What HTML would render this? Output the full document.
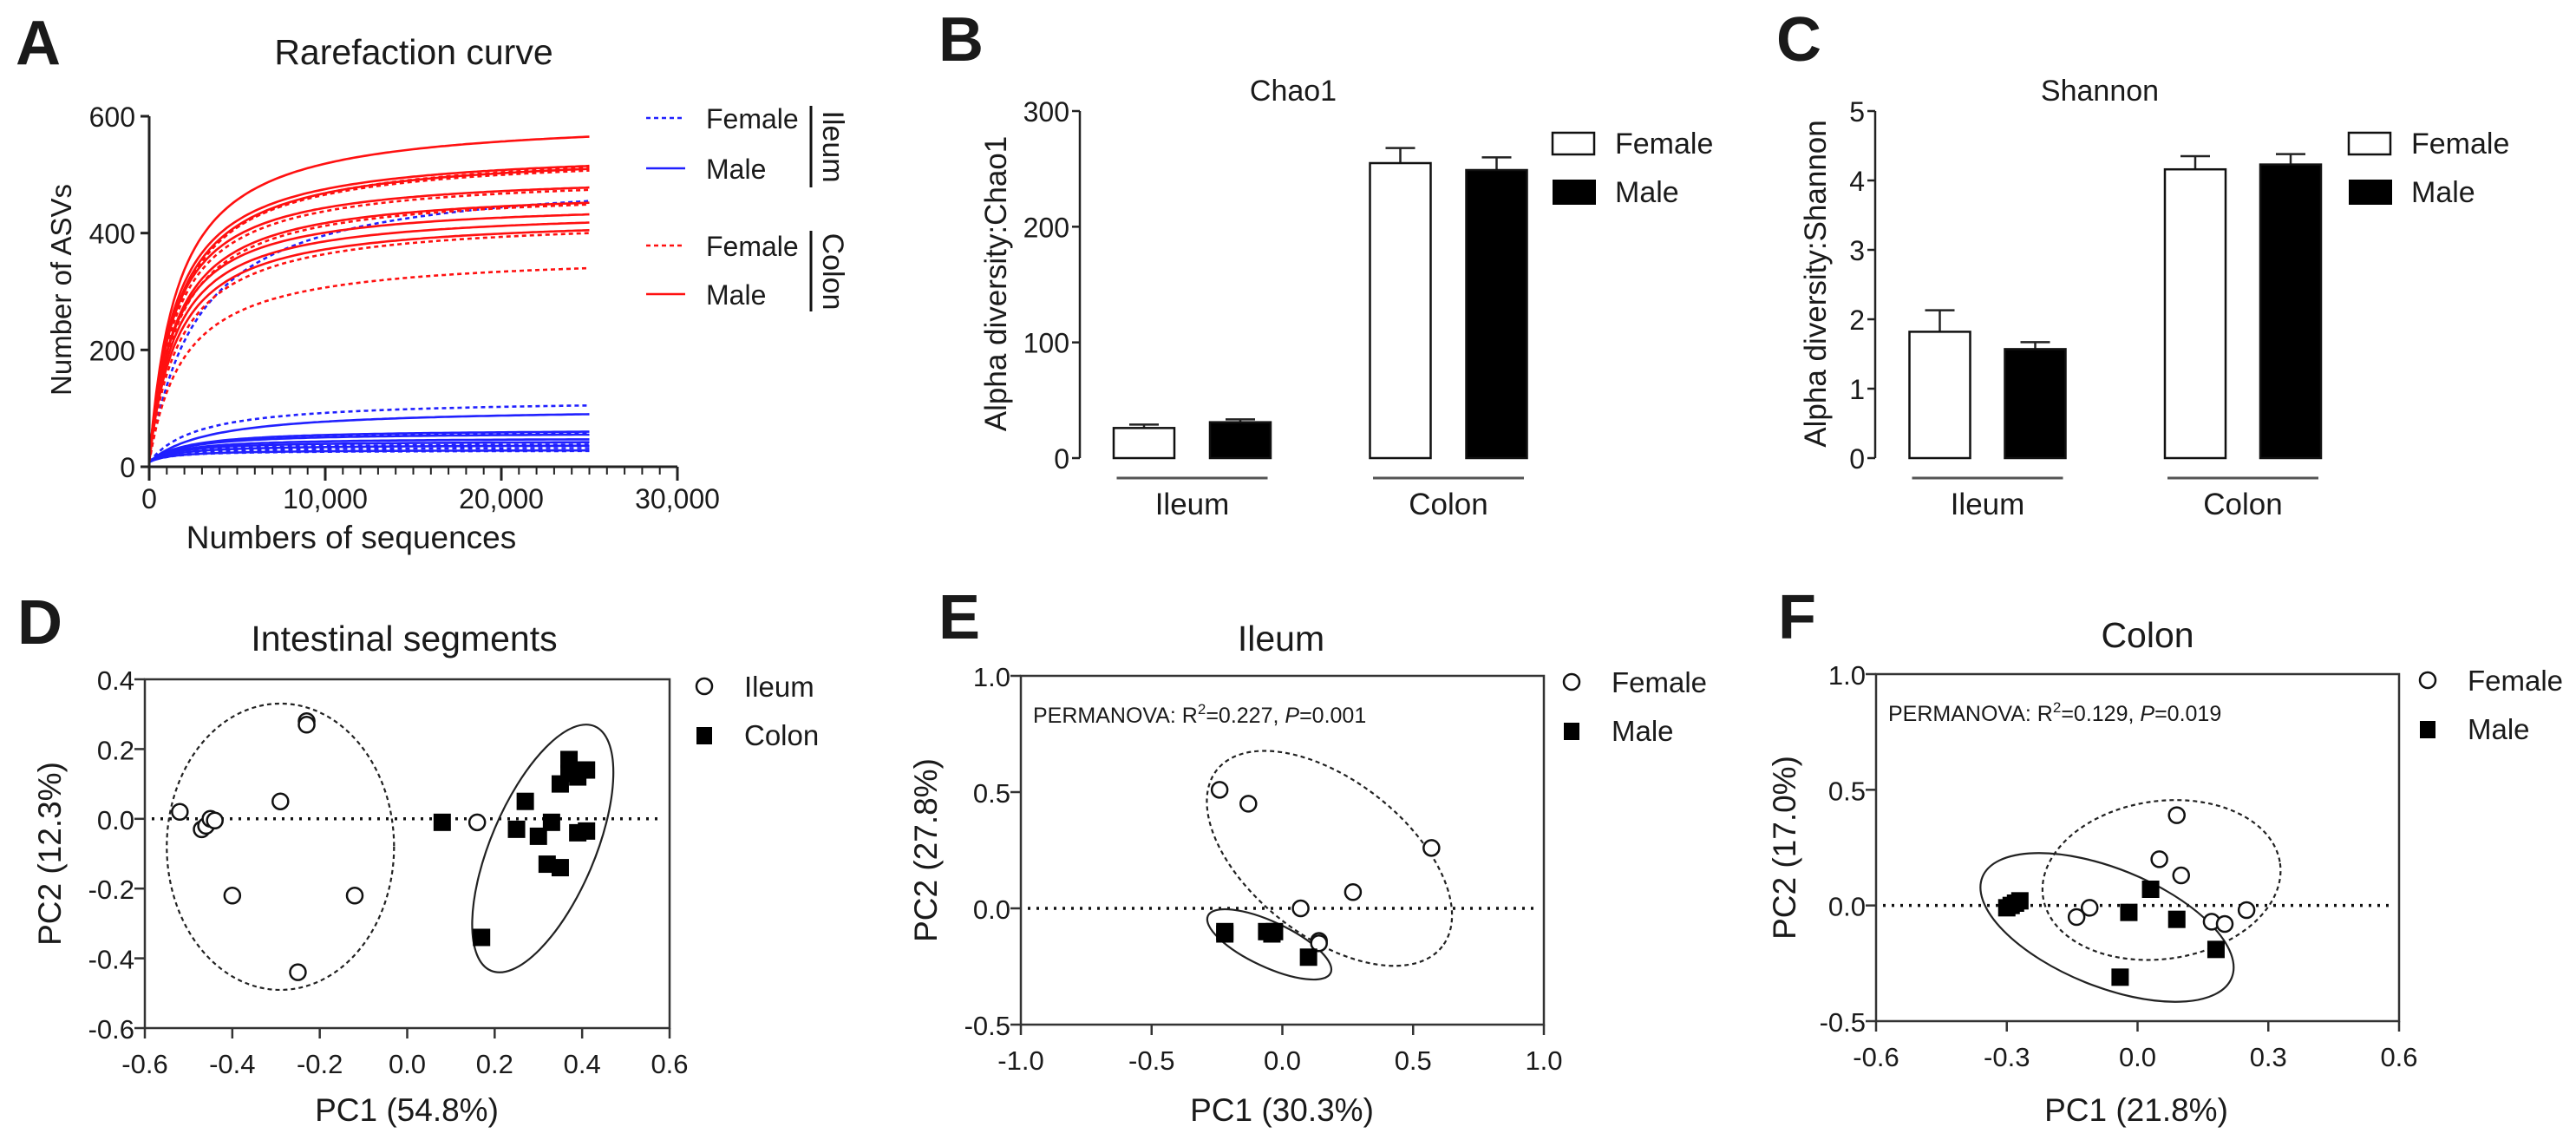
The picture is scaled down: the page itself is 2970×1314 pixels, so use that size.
<!DOCTYPE html>
<html><head><meta charset="utf-8"><style>
html,body{margin:0;padding:0;background:#fff;}
svg{display:block;font-family:"Liberation Sans",Arial,sans-serif;}
</style></head><body>
<svg id="fig" width="2970" height="1314" viewBox="0 0 2970 1314" xmlns="http://www.w3.org/2000/svg">
<rect width="2970" height="1314" fill="#fff"/>
<g id="root"></g>
</svg>
<script>
// ===== Panel A data =====
const colonSolidFinal = [565, 515, 510, 478, 452, 432, 418, 405];
const colonSolidK = [1600, 1500, 1600, 1400, 1500, 1400, 1500, 1600];
const colonDotFinal = [512, 507, 474, 449, 400, 340];
const colonDotK = [1700, 1600, 1500, 1600, 1800, 2000];
const ileumSolidFinal = [90, 60, 55, 47, 42, 36, 28];
const ileumSolidK = [3500, 2200, 2000, 1800, 1600, 1600, 1400];
const ileumDotFinal = [455, 105, 58, 38, 32, 27];
const ileumDotK = [2800, 2800, 2300, 1600, 1500, 1300];
const aXTicks = [0, 10000, 20000, 30000];
const aXTickLabels = ["0", "10,000", "20,000", "30,000"];
const aYTicks = [0, 200, 400, 600];
// ===== Panel B data =====
const bCategories = ["Ileum", "Colon"];
const bFemale = [26, 255];
const bFemaleErr = [3, 13];
const bMale = [31, 249];
const bMaleErr = [2.5, 11];
const bYTicks = [0, 100, 200, 300];
// ===== Panel C data =====
const cCategories = ["Ileum", "Colon"];
const cFemale = [1.82, 4.16];
const cFemaleErr = [0.31, 0.19];
const cMale = [1.57, 4.23];
const cMaleErr = [0.10, 0.15];
const cYTicks = [0, 1, 2, 3, 4, 5];
// ===== Panel D data =====
const dIleumX = [-0.52, -0.47, -0.46, -0.45, -0.44, -0.29, -0.23, -0.23, -0.40, -0.12, -0.25, 0.16];
const dIleumY = [0.02, -0.03, -0.02, 0.00, -0.005, 0.05, 0.28, 0.27, -0.22, -0.22, -0.44, -0.01];
const dColonX = [0.08, 0.17, 0.25, 0.27, 0.30, 0.33, 0.32, 0.35, 0.35, 0.37, 0.37, 0.39, 0.41, 0.40, 0.39, 0.41];
const dColonY = [-0.01, -0.34, -0.03, 0.05, -0.05, -0.01, -0.13, -0.14, 0.10, 0.17, 0.13, 0.12, 0.14, 0.14, -0.04, -0.035];
const dXTicks = [-0.6, -0.4, -0.2, 0.0, 0.2, 0.4, 0.6];
const dYTicks = [-0.6, -0.4, -0.2, 0.0, 0.2, 0.4];
// ===== Panel E data =====
const eFemaleX = [-0.24, -0.13, 0.57, 0.27, 0.07, 0.14, 0.14];
const eFemaleY = [0.51, 0.45, 0.26, 0.07, 0.00, -0.14, -0.15];
const eMaleX = [-0.22, -0.22, -0.06, -0.04, -0.03, 0.10];
const eMaleY = [-0.10, -0.11, -0.10, -0.11, -0.10, -0.21];
const eXTicks = [-1.0, -0.5, 0.0, 0.5, 1.0];
const eYTicks = [-0.5, 0.0, 0.5, 1.0];
// ===== Panel F data =====
const fFemaleX = [0.09, 0.05, 0.10, -0.11, -0.14, 0.17, 0.20, 0.25];
const fFemaleY = [0.39, 0.20, 0.13, -0.01, -0.05, -0.07, -0.08, -0.02];
const fMaleX = [-0.30, -0.29, -0.28, -0.27, 0.03, -0.02, 0.09, 0.18, -0.04];
const fMaleY = [-0.01, 0.00, 0.01, 0.02, 0.07, -0.03, -0.06, -0.19, -0.31];
const fXTicks = [-0.6, -0.3, 0.0, 0.3, 0.6];
const fYTicks = [-0.5, 0.0, 0.5, 1.0];

const NS = "http://www.w3.org/2000/svg";
const root = document.getElementById("root");
function mk(tag, attrs, parent, text) {
  const e = document.createElementNS(NS, tag);
  for (const k in attrs) e.setAttribute(k, attrs[k]);
  if (text !== undefined) e.textContent = text;
  (parent || root).appendChild(e);
  return e;
}
function txt(x, y, s, size, anchor, parent, extra) {
  const a = {x: x, y: y, "font-size": size, "text-anchor": anchor || "start", fill: "#1a1a1a"};
  if (extra) for (const k in extra) a[k] = extra[k];
  return mk("text", a, parent, s);
}
function fmt1(v) { return v.toFixed(1); }

// ===== Panel labels =====
[["A",18,74],["B",1082,70],["C",2048,70],["D",20,742],["E",1082,736],["F",2050,736]].forEach(p => {
  const t = txt(p[1], p[2], p[0], 72, "start", root, {"font-weight": "bold"});
  
  
});

// ===== Panel A =====
(function(){
  const g = mk("g", {});
  
  
  const x0 = 172, x1 = 781, y0 = 538, y1 = 134;
  const X = v => x0 + (v / 30000) * (x1 - x0);
  const Y = v => y0 - (v / 600) * (y0 - y1);
  const title = txt(477, 74, "Rarefaction curve", 41, "middle", g);
  
  
  function curve(final, K, color, dotted, name) {
    const norm = (1 + K / 25000);
    let d = "";
    for (let i = 0; i <= 125; i++) {
      const s = i * 200;
      const v = 8 + (final - 8) * norm * s / (K + s);
      d += (i ? "L" : "M") + X(s).toFixed(1) + "," + Y(v).toFixed(1);
    }
    const p = mk("path", {d: d, fill: "none", stroke: color, "stroke-width": 2.6,
      "stroke-dasharray": dotted ? "5,4" : "none"}, g);
    
    
  }
  ileumSolidFinal.forEach((f, i) => curve(f, ileumSolidK[i], "#2020ff", false, "ileum-male-curve"));
  ileumDotFinal.forEach((f, i) => curve(f, ileumDotK[i], "#2020ff", true, "ileum-female-curve"));
  colonSolidFinal.forEach((f, i) => curve(f, colonSolidK[i], "#ff1010", false, "colon-male-curve"));
  colonDotFinal.forEach((f, i) => curve(f, colonDotK[i], "#ff1010", true, "colon-female-curve"));
  const ax = mk("g", {stroke: "#222", "stroke-width": 3}, g);
  
  
  mk("line", {x1: x0, y1: y1, x2: x0, y2: y0}, ax);
  mk("line", {x1: x0, y1: y0, x2: x1, y2: y0}, ax);
  for (let s = 0; s <= 30000; s += 1000) {
    const major = s % 10000 === 0;
    mk("line", {x1: X(s), y1: y0, x2: X(s), y2: y0 + (major ? 16 : 9), "stroke-width": major ? 3 : 2}, ax);
  }
  aYTicks.forEach(v => {
    mk("line", {x1: x0 - 10, y1: Y(v), x2: x0, y2: Y(v)}, ax);
    const t = txt(x0 - 16, Y(v) + 12, String(v), 32, "end", g);
    
    
  });
  aXTicks.forEach((v, i) => {
    const t = txt(X(v), 586, aXTickLabels[i], 32, "middle", g);
    
    
  });
  const xt = txt(405, 632, "Numbers of sequences", 37, "middle", g);
  
  
  const yt = txt(0, 0, "Number of ASVs", 33, "middle", g, {transform: "translate(82,334) rotate(-90)"});
  
  
  const lg = mk("g", {}, g);
  
  
  [[136, "#2020ff", true, "Female"], [194, "#2020ff", false, "Male"], [283, "#ff1010", true, "Female"], [339, "#ff1010", false, "Male"]].forEach(r => {
    mk("line", {x1: 745, y1: r[0], x2: 790, y2: r[0], stroke: r[1], "stroke-width": 2.6, "stroke-dasharray": r[2] ? "5,4" : "none"}, lg);
    const t = txt(814, r[0] + 12, r[3], 32, "start", lg);
    
    
  });
  mk("line", {x1: 935, y1: 122, x2: 935, y2: 216, stroke: "#111", "stroke-width": 3}, lg);
  mk("line", {x1: 935, y1: 266, x2: 935, y2: 359, stroke: "#111", "stroke-width": 3}, lg);
  txt(0, 0, "Ileum", 34, "middle", lg, {transform: "translate(949,169) rotate(90)"});
  txt(0, 0, "Colon", 34, "middle", lg, {transform: "translate(949,313) rotate(90)"});
})();

// ===== Bar panels B, C =====
function barPanel(opt) {
  const g = mk("g", {});
  
  
  const Y = v => opt.y0 - (v / opt.ymax) * (opt.y0 - opt.y1);
  const t = txt(opt.titleX, 116, opt.title, 34, "middle", g);
  
  
  const ax = mk("g", {stroke: "#222", "stroke-width": 2.5}, g);
  mk("line", {x1: opt.ax, y1: opt.y1, x2: opt.ax, y2: opt.y0}, ax);
  opt.ticks.forEach(v => {
    mk("line", {x1: opt.ax - 9, y1: Y(v), x2: opt.ax, y2: Y(v)}, ax);
    const tl = txt(opt.ax - 12, Y(v) + 12, String(v), 32, "end", g);
    
    
  });
  const yt = txt(0, 0, opt.ylabel, 35, "middle", g, {transform: "translate(" + opt.ylx + ",327) rotate(-90)"});
  
  
  opt.cats.forEach((c, i) => {
    const gc = opt.g0 + i * opt.gs;
    [[opt.fem, opt.femErr, -1, "#fff", "female"], [opt.male, opt.maleErr, 1, "#000", "male"]].forEach(s => {
      const cx = gc + s[2] * opt.off;
      const top = Y(s[0][i]);
      const et = Y(s[0][i] + s[1][i]);
      mk("line", {x1: cx, y1: top, x2: cx, y2: et, stroke: "#222", "stroke-width": 2.5}, g);
      mk("line", {x1: cx - 17, y1: et, x2: cx + 17, y2: et, stroke: "#222", "stroke-width": 2.5}, g);
      const r = mk("rect", {x: cx - 35, y: top, width: 70, height: opt.y0 - top, fill: s[3], stroke: "#111", "stroke-width": 2.5}, g);
      
      
    });
    mk("line", {x1: gc - 87, y1: 551, x2: gc + 87, y2: 551, stroke: "#555", "stroke-width": 3}, g);
    const gl = txt(gc, 593, c, 35, "middle", g);
    
    
  });
  const lg = mk("g", {}, g);
  
  
  mk("rect", {x: opt.lx, y: 153, width: 48, height: 25, fill: "#fff", stroke: "#111", "stroke-width": 2.5}, lg);
  mk("rect", {x: opt.lx, y: 207, width: 50, height: 29, fill: "#000"}, lg);
  txt(opt.lx + 72, 177, "Female", 34, "start", lg);
  txt(opt.lx + 72, 233, "Male", 34, "start", lg);
}
barPanel({name: "chao1-panel", title: "Chao1", titleX: 1491, ax: 1245, y0: 528, y1: 128, ymax: 300, ticks: bYTicks,
  ylabel: "Alpha diversity:Chao1", ylx: 1160, cats: bCategories, fem: bFemale, femErr: bFemaleErr, male: bMale, maleErr: bMaleErr,
  g0: 1374.5, gs: 295.5, off: 55.5, lx: 1790});
barPanel({name: "shannon-panel", title: "Shannon", titleX: 2421, ax: 2162, y0: 528, y1: 128, ymax: 5, ticks: cYTicks,
  ylabel: "Alpha diversity:Shannon", ylx: 2105, cats: cCategories, fem: cFemale, femErr: cFemaleErr, male: cMale, maleErr: cMaleErr,
  g0: 2291.5, gs: 294.5, off: 55, lx: 2708});

// ===== PCoA panels =====
function pcoa(opt) {
  const g = mk("g", {});
  
  
  const X = v => opt.px0 + (v - opt.xmin) / (opt.xmax - opt.xmin) * (opt.px1 - opt.px0);
  const Y = v => opt.py0 - (v - opt.ymin) / (opt.ymax - opt.ymin) * (opt.py0 - opt.py1);
  const tt = txt(opt.titleX, opt.titleY, opt.title, 41, "middle", g);
  
  
  mk("rect", {x: opt.px0, y: opt.py1, width: opt.px1 - opt.px0, height: opt.py0 - opt.py1, fill: "none", stroke: "#333", "stroke-width": 2.5}, g);
  mk("line", {x1: opt.px0 + 8, y1: Y(0), x2: opt.px1 - 8, y2: Y(0), stroke: "#111", "stroke-width": 3.5, "stroke-dasharray": "3,7"}, g);
  opt.xt.forEach(v => {
    mk("line", {x1: X(v), y1: opt.py0, x2: X(v), y2: opt.py0 + 12, stroke: "#333", "stroke-width": 2.5}, g);
    const l = txt(X(v), opt.py0 + 52, fmt1(v), 31, "middle", g);
    
    
  });
  opt.yt.forEach(v => {
    mk("line", {x1: opt.px0 - 12, y1: Y(v), x2: opt.px0, y2: Y(v), stroke: "#333", "stroke-width": 2.5}, g);
    const l = txt(opt.px0 - 12, Y(v) + 12, fmt1(v), 31, "end", g);
    
    
  });
  const xl = txt(opt.xlX, 1292, opt.xlabel, 37, "middle", g);
  
  
  const yl = txt(0, 0, opt.ylabel, 37, "middle", g, {transform: "translate(" + opt.ylX + "," + ((opt.py0 + opt.py1) / 2) + ") rotate(-90)"});
  
  
  if (opt.perm) {
    const p = mk("text", {x: opt.px0 + 14, y: opt.py1 + 54, "font-size": 25, fill: "#1a1a1a"}, g);
    
    
    mk("tspan", {}, p, "PERMANOVA: R");
    mk("tspan", {dy: -10, "font-size": 17}, p, "2");
    mk("tspan", {dy: 10}, p, "=" + opt.perm[0] + ", ");
    mk("tspan", {"font-style": "italic"}, p, "P");
    mk("tspan", {}, p, "=" + opt.perm[1]);
  }
  opt.ell.forEach(e => {
    const el = mk("ellipse", {cx: 0, cy: 0, rx: e.a, ry: e.b, fill: "none", stroke: "#222", "stroke-width": 2.2,
      "stroke-dasharray": e.dash ? "5,4" : "none",
      transform: "translate(" + X(e.cx) + "," + Y(e.cy) + ") rotate(" + e.ang + ")"}, g);
    
    
  });
  opt.circX.forEach((x, i) => {
    const c = mk("circle", {cx: X(x), cy: Y(opt.circY[i]), r: 9, fill: "#fff", stroke: "#111", "stroke-width": 2.5}, g);
    
    
  });
  opt.sqX.forEach((x, i) => {
    const s = mk("rect", {x: X(x) - 10, y: Y(opt.sqY[i]) - 10, width: 20, height: 20, fill: "#000"}, g);
    
    
  });
  const lg = mk("g", {}, g);
  
  
  mk("circle", {cx: opt.lx, cy: opt.ly, r: 9, fill: "#fff", stroke: "#111", "stroke-width": 2.5}, lg);
  mk("rect", {x: opt.lx - 9, y: opt.ly + 47, width: 18, height: 20, fill: "#000"}, lg);
  txt(opt.lx + 46, opt.ly + 12, opt.leg[0], 33, "start", lg);
  txt(opt.lx + 46, opt.ly + 68, opt.leg[1], 33, "start", lg);
}
pcoa({name: "pcoa-intestinal-segments", title: "Intestinal segments", titleX: 466, titleY: 750,
  px0: 167, px1: 772, py0: 1185, py1: 783, xmin: -0.6, xmax: 0.6, ymin: -0.6, ymax: 0.4, xt: dXTicks, yt: dYTicks,
  xlabel: "PC1 (54.8%)", xlX: 469, ylabel: "PC2 (12.3%)", ylX: 70,
  circX: dIleumX, circY: dIleumY, circName: "ileum", sqX: dColonX, sqY: dColonY, sqName: "colon",
  ell: [{cx: -0.29, cy: -0.08, a: 131, b: 165, ang: 0, dash: true, name: "ileum-ellipse"},
        {cx: 0.31, cy: -0.085, a: 153, b: 60, ang: -67, dash: false, name: "colon-ellipse"}],
  lx: 812, ly: 791, leg: ["Ileum", "Colon"]});
pcoa({name: "pcoa-ileum", title: "Ileum", titleX: 1477, titleY: 750,
  px0: 1177, px1: 1780, py0: 1181, py1: 779, xmin: -1, xmax: 1, ymin: -0.5, ymax: 1, xt: eXTicks, yt: eYTicks,
  xlabel: "PC1 (30.3%)", xlX: 1478, ylabel: "PC2 (27.8%)", ylX: 1080, perm: ["0.227", "0.001"],
  circX: eFemaleX, circY: eFemaleY, circName: "female", sqX: eMaleX, sqY: eMaleY, sqName: "male",
  ell: [{cx: 0.18, cy: 0.215, a: 165, b: 90, ang: 38, dash: true, name: "female-ellipse"},
        {cx: -0.05, cy: -0.155, a: 78, b: 26, ang: 25, dash: false, name: "male-ellipse"}],
  lx: 1812, ly: 786, leg: ["Female", "Male"]});
pcoa({name: "pcoa-colon", title: "Colon", titleX: 2476, titleY: 746,
  px0: 2163, px1: 2766, py0: 1177, py1: 777, xmin: -0.6, xmax: 0.6, ymin: -0.5, ymax: 1, xt: fXTicks, yt: fYTicks,
  xlabel: "PC1 (21.8%)", xlX: 2463, ylabel: "PC2 (17.0%)", ylX: 2070, perm: ["0.129", "0.019"],
  circX: fFemaleX, circY: fFemaleY, circName: "female", sqX: fMaleX, sqY: fMaleY, sqName: "male",
  ell: [{cx: 0.055, cy: 0.11, a: 138, b: 91, ang: -8, dash: true, name: "female-ellipse"},
        {cx: -0.07, cy: -0.095, a: 155, b: 68, ang: 22, dash: false, name: "male-ellipse"}],
  lx: 2799, ly: 784, leg: ["Female", "Male"]});
</script>
</body></html>
